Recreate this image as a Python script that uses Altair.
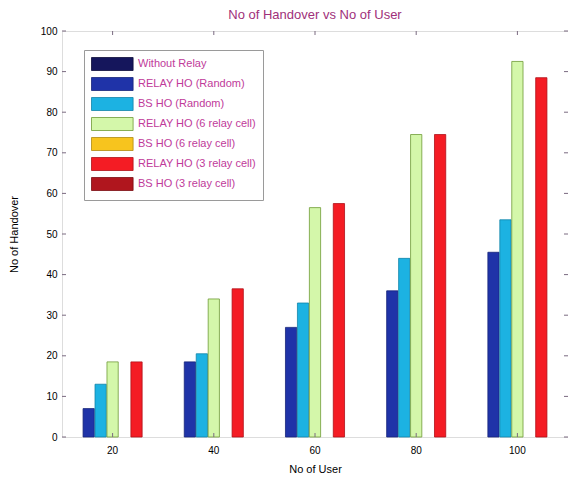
import altair as alt
import pandas as pd

users = ["20", "40", "60", "80", "100"]
series = [
    "Without Relay",
    "RELAY HO (Random)",
    "BS HO (Random)",
    "RELAY HO (6 relay cell)",
    "BS HO (6 relay cell)",
    "RELAY HO (3 relay cell)",
    "BS HO (3 relay cell)",
]
without_relay = [0, 0, 0, 0, 0]
relay_ho_random = [7, 18.5, 27, 36, 45.5]
bs_ho_random = [13, 20.5, 33, 44, 53.5]
relay_ho_6 = [18.5, 34, 56.5, 74.5, 92.5]
bs_ho_6 = [0, 0, 0, 0, 0]
relay_ho_3 = [18.5, 36.5, 57.5, 74.5, 88.5]
bs_ho_3 = [0, 0, 0, 0, 0]
y_ticks = [0, 10, 20, 30, 40, 50, 60, 70, 80, 90, 100]

fills = ["#15165c", "#1f33a8", "#1cb2e2", "#d4f7aa", "#f7c41e", "#f41c24", "#b0161e"]
strokes = ["#0c0d3a", "#16247a", "#1284a8", "#6f9a36", "#b08a10", "#b01018", "#7a0c12"]

all_vals = [without_relay, relay_ho_random, bs_ho_random, relay_ho_6, bs_ho_6, relay_ho_3, bs_ho_3]
rows = []
for s, vals in zip(series, all_vals):
    for u, v in zip(users, vals):
        rows.append({"user": u, "series": s, "value": v})
df = pd.DataFrame(rows)

tick_df = pd.DataFrame({"value": y_ticks})
xtick_df = pd.DataFrame({"user": users})

purple = "#a0307a"
W, H = 506, 406

bars = alt.Chart(df).transform_filter("datum.value > 0").mark_bar(strokeWidth=0.8).encode(
    x=alt.X("user:N", sort=users,
            scale=alt.Scale(domain=users, paddingInner=0.18, paddingOuter=0.09),
            axis=alt.Axis(title="No  of User", labelAngle=0, tickSize=0,
                          labelPadding=8, titlePadding=8, domain=False,
                          titleFontWeight="normal")),
    xOffset=alt.XOffset("series:N", sort=series,
                        scale=alt.Scale(domain=series, paddingInner=0.06)),
    y=alt.Y("value:Q", scale=alt.Scale(domain=[0, 100], nice=False),
            axis=alt.Axis(title="No  of Handover", values=y_ticks, tickSize=0,
                          labelPadding=5, titlePadding=21, grid=False, domain=False,
                          titleFontWeight="normal")),
    color=alt.Color("series:N", sort=series,
                    scale=alt.Scale(domain=series, range=fills),
                    legend=alt.Legend(title=None, orient="none", legendX=22, legendY=19,
                                      fillColor="white", strokeColor="#9a9a9a",
                                      padding=7, rowPadding=2, labelOffset=33,
                                      symbolType="M-1,-1H5.4V1H-1Z",
                                      symbolSize=169, symbolStrokeWidth=0.8,
                                      symbolOpacity=1,
                                      labelFontSize=11, labelColor="#c03a9a",
                                      labelFont="Liberation Sans")),
    stroke=alt.Stroke("series:N", sort=series,
                      scale=alt.Scale(domain=series, range=strokes), legend=None),
)

ytl = alt.Chart(tick_df).mark_rule(color="#7a6a80", strokeWidth=1).encode(
    y=alt.Y("value:Q"), x=alt.value(0), x2=alt.value(4))
ytr = alt.Chart(tick_df).mark_rule(color="#7a6a80", strokeWidth=1).encode(
    y=alt.Y("value:Q"), x=alt.value(W - 4), x2=alt.value(W))
xtb = alt.Chart(xtick_df).mark_rule(color="#7a6a80", strokeWidth=1).encode(
    x=alt.X("user:N", sort=users, bandPosition=0.5), y=alt.value(H), y2=alt.value(H - 4))
xtt = alt.Chart(xtick_df).mark_rule(color="#7a6a80", strokeWidth=1).encode(
    x=alt.X("user:N", sort=users, bandPosition=0.5), y=alt.value(0), y2=alt.value(4))

chart = alt.layer(bars, ytl, ytr, xtb, xtt).properties(
    width=W, height=H,
    autosize=alt.AutoSizeParams(type="none"),
    padding={"left": 54, "top": 23, "right": 0, "bottom": 38},
    title=alt.TitleParams("No  of Handover vs No  of User", fontSize=13,
                          fontWeight="normal", color=purple,
                          font="Liberation Sans", offset=4),
).configure_view(stroke="#7a6a80", strokeWidth=1).configure_axis(
    labelFont="Liberation Sans", titleFont="Liberation Sans",
    labelFontSize=12, titleFontSize=12, labelColor=purple, titleColor=purple,
).configure(background="white")

chart.save("out.html", embed_options={"renderer": "svg", "actions": False})
